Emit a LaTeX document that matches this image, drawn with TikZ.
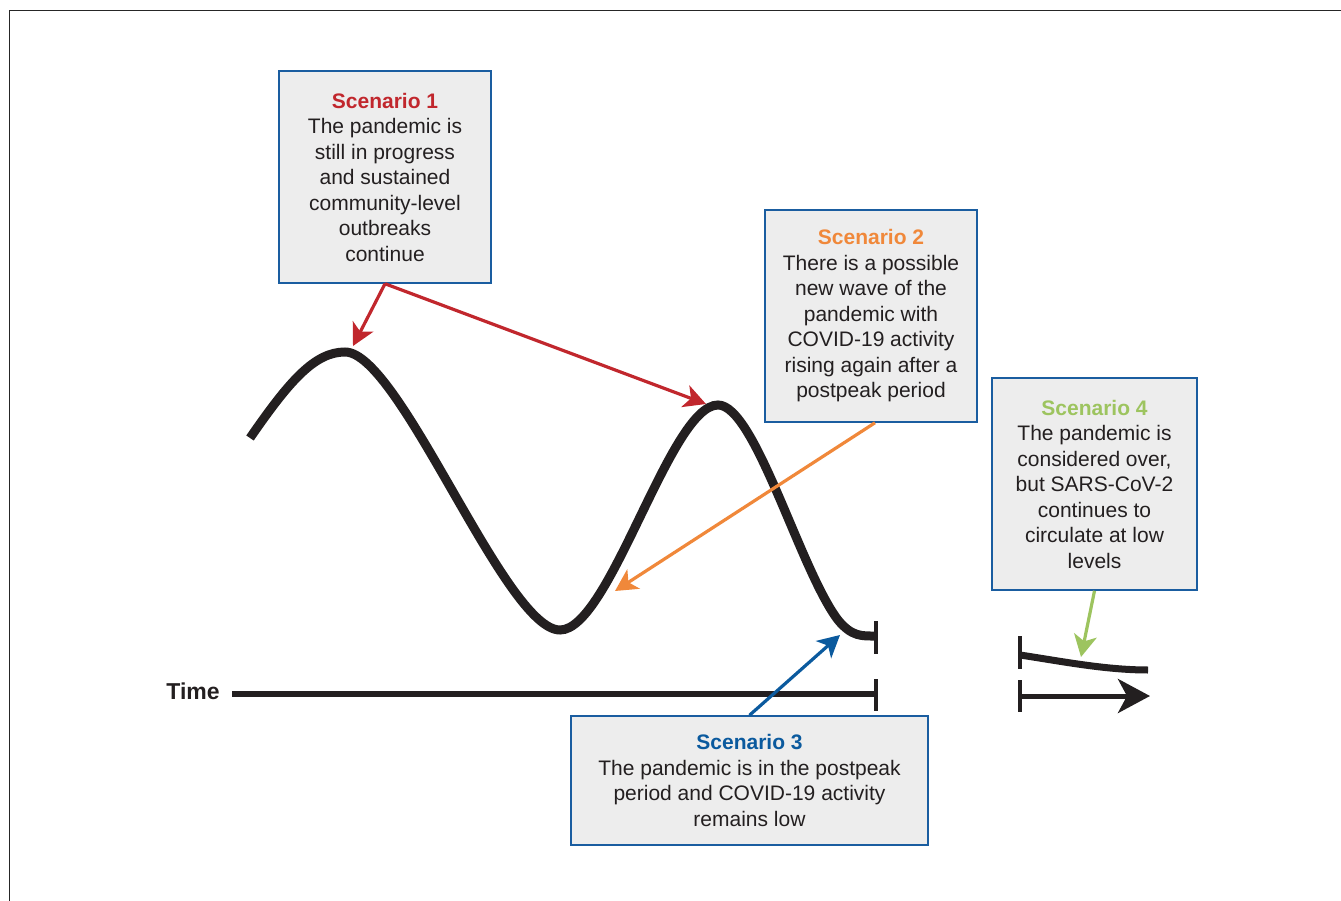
\documentclass[tikz,border=0pt]{standalone}
\usepackage{fontspec}
\setmainfont{Liberation Sans}
\usetikzlibrary{arrows.meta,calc}
\definecolor{curvecol}{HTML}{231F20}
\definecolor{boxfill}{HTML}{EDEDED}
\definecolor{boxline}{HTML}{1A5DA0}
\definecolor{redc}{HTML}{C1272D}
\definecolor{orangec}{HTML}{F0883A}
\definecolor{bluec}{HTML}{0B5A9E}
\definecolor{greenc}{HTML}{9DC45F}
\definecolor{textc}{HTML}{231F20}
\tikzset{
  scenbox/.style={draw=boxline, line width=1.5pt, fill=boxfill, align=center,
    inner sep=0pt, text=textc, font=\fontsize{21}{25.5}\selectfont},
  wave/.style={draw=curvecol, line width=9pt},
  tickbar/.style={draw=curvecol, line width=4pt},
  callout/.style={line width=3.2pt, -{Stealth[length=22pt,width=23pt,inset=6pt]}},
}
\begin{document}
\begin{tikzpicture}[x=1pt,y=-1pt]
\useasboundingbox (0,0) rectangle (1341,901);
\draw[line width=1.2pt, black!85] (9.5,905) -- (9.5,10.5) -- (1345,10.5);

% boxes
\node[scenbox, minimum width=212pt, minimum height=212pt] (s1) at (385,177)
  {\textbf{\textcolor{redc}{Scenario 1}}\\The pandemic is\\still in progress\\and sustained\\community-level\\outbreaks\\continue};
\node[scenbox, minimum width=212pt, minimum height=212pt] (s2) at (871,316)
  {\textbf{\textcolor{orangec}{Scenario 2}}\\There is a possible\\new wave of the\\pandemic with\\COVID-19 activity\\rising again after a\\postpeak period};
\node[scenbox, minimum width=205pt, minimum height=212pt] (s4) at (1094.5,484)
  {\textbf{\textcolor{greenc}{Scenario 4}}\\The pandemic is\\considered over,\\but SARS-CoV-2\\continues to\\circulate at low\\levels};
\node[scenbox, minimum width=357pt, minimum height=129pt] (s3) at (749.5,780.5)
  {\textbf{\textcolor{bluec}{Scenario 3}}\\The pandemic is in the postpeak\\period and COVID-19 activity\\remains low};

% wave
\draw[wave] (250,438) .. controls (290,380) and (315,352) .. (345,352)
  .. controls (400,352) and (505,630) .. (560,630)
  .. controls (610,630) and (670,405) .. (718,405)
  .. controls (755,405) and (800,570) .. (838,620)
  .. controls (852,637) and (862,636) .. (876,636);
\draw[tickbar] (876,621) -- (876,654);

% time axis
\node[font=\bfseries\fontsize{23}{26}\selectfont, text=textc] (time) at (193,691) {Time};
\coordinate (ax0) at (232,694);
\coordinate (ax1) at (876,694);
\draw[draw=curvecol, line width=6pt] (ax0) -- (ax1);
\draw[tickbar] (876,679) -- (876,711);

% right part
\draw[draw=curvecol, line width=7pt] (1020,655) .. controls (1060,661) and (1105,670) .. (1148,670);
\draw[tickbar] (1020,636) -- (1020,669);
\draw[tickbar] (1020,680) -- (1020,712);
\coordinate (bx0) at (1020,696);
\coordinate (bx1) at (1150,696);
\draw[draw=curvecol, line width=5pt, -{Stealth[length=32pt,width=34pt,inset=9pt]}] (bx0) -- (bx1);

% callouts
\coordinate (p1) at (353,346);
\coordinate (p2) at (706,404);
\coordinate (p3) at (615,591);
\coordinate (p4) at (840,635);
\coordinate (p5) at (1081,657);
\draw[callout, redc] (s1.south) -- (p1);
\draw[callout, redc] (s1.south) -- (p2);
\draw[callout, orangec] ($(s2.south)+(4,0)$) -- (p3);
\draw[callout, bluec] (s3.north) -- (p4);
\draw[callout, greenc] (s4.south) -- (p5);
\end{tikzpicture}
\end{document}
